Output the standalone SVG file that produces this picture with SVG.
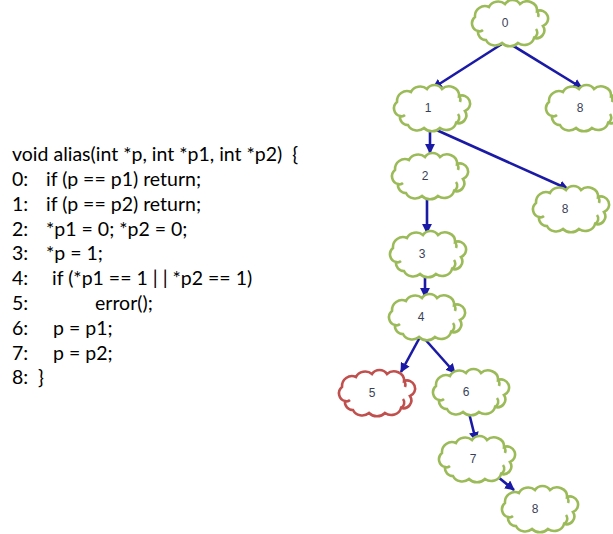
<svg xmlns="http://www.w3.org/2000/svg" xmlns:xlink="http://www.w3.org/1999/xlink" width="613" height="534" viewBox="0 0 613 534">
<style>
.code{font-family:Lato,"Liberation Sans",sans-serif;font-size:19.5px;fill:#000}
.cl{fill:#fff;stroke:#9bbb59;stroke-width:2.6}
.cl.red{stroke:#c0504d}
.curl{fill:none;stroke:#9bbb59;stroke-width:2.6}
.red .curl{stroke:#c0504d}
.lbl{font-family:"Liberation Sans",Arial,sans-serif;font-size:12px;fill:#3a3f58;text-anchor:middle}
.edge{stroke:#1a1aa6;stroke-width:2.6;fill:none;marker-end:url(#ah)}
</style>
<defs>
<marker id="ah" viewBox="0 0 10 10" refX="9" refY="5" markerWidth="3.8" markerHeight="3.8" orient="auto" markerUnits="strokeWidth">
<path d="M0,0 L10,5 L0,10 Z" fill="#1a1aa6"/>
</marker>
<path id="cloud" d="M -30,8 A 8,8 0 0 1 -33,-6 A 10,10 0 0 1 -19,-16 A 10,9 0 0 1 -3,-19 A 9,9 0 0 1 12,-19 A 10,9 0 0 1 29,-12 A 8,8 0 0 1 35,3 A 8,8 0 0 1 26,15 A 10,9 0 0 1 10,20 A 10,8 0 0 1 -6,20 A 10,9 0 0 1 -22,17 A 8,8 0 0 1 -30,8 Z"/>
<path id="curls" d="M 26,15 A 6,6 0 0 0 28,6 M 29,-12 A 6,6 0 0 1 30,-6 M -30,8 A 5,5 0 0 0 -25,7"/>
</defs>
<g id="code">
<text class="code" x="12" y="161" xml:space="preserve">void alias(int *p, int *p1, int *p2)  {</text>
<text class="code" x="12" y="186">0:</text><text class="code" x="46" y="186">if (p == p1) return;</text>
<text class="code" x="12" y="211">1:</text><text class="code" x="46" y="211">if (p == p2) return;</text>
<text class="code" x="12" y="236">2:</text><text class="code" x="46" y="236">*p1 = 0; *p2 = 0;</text>
<text class="code" x="12" y="260">3:</text><text class="code" x="46" y="260">*p = 1;</text>
<text class="code" x="12" y="285">4:</text><text class="code" x="52" y="285">if (*p1 == 1 | | *p2 == 1)</text>
<text class="code" x="12" y="310">5:</text><text class="code" x="95" y="310">error();</text>
<text class="code" x="12" y="335">6:</text><text class="code" x="53" y="335">p = p1;</text>
<text class="code" x="12" y="360">7:</text><text class="code" x="53" y="360">p = p2;</text>
<text class="code" x="12" y="384">8:</text><text class="code" x="38" y="384">}</text>
</g>
<g id="edges">
<line class="edge" x1="505" y1="42" x2="433" y2="88"/>
<line class="edge" x1="507" y1="42" x2="582" y2="88"/>
<line class="edge" x1="430" y1="128" x2="430" y2="153"/>
<line class="edge" x1="432" y1="128" x2="568" y2="189"/>
<line class="edge" x1="427" y1="196" x2="427" y2="233"/>
<line class="edge" x1="425" y1="274" x2="425" y2="297"/>
<line class="edge" x1="420" y1="337" x2="401" y2="372"/>
<line class="edge" x1="423" y1="337" x2="455" y2="373"/>
<line class="edge" x1="469" y1="413" x2="476" y2="441"/>
<line class="edge" x1="487" y1="468" x2="514" y2="490"/>
</g>
<g id="n0" transform="translate(508,23)"><use href="#cloud" class="cl"/><use href="#curls" class="curl"/><text class="lbl" x="-3" y="4">0</text></g>
<g id="n1" transform="translate(430,108)"><use href="#cloud" class="cl"/><use href="#curls" class="curl"/><text class="lbl" x="-2" y="4">1</text></g>
<g id="n8a" transform="translate(582,108)"><use href="#cloud" class="cl"/><use href="#curls" class="curl"/><text class="lbl" x="-2" y="4">8</text></g>
<g id="n2" transform="translate(428,176)"><use href="#cloud" class="cl"/><use href="#curls" class="curl"/><text class="lbl" x="-3" y="4">2</text></g>
<g id="n8b" transform="translate(569,209)"><use href="#cloud" class="cl"/><use href="#curls" class="curl"/><text class="lbl" x="-4" y="4">8</text></g>
<g id="n3" transform="translate(426,254)"><use href="#cloud" class="cl"/><use href="#curls" class="curl"/><text class="lbl" x="-4" y="4">3</text></g>
<g id="n4" transform="translate(425,317)"><use href="#cloud" class="cl"/><use href="#curls" class="curl"/><text class="lbl" x="-4" y="4">4</text></g>
<g id="n5" class="red" transform="translate(375,393)"><use href="#cloud" class="cl red"/><use href="#curls" class="curl"/><text class="lbl" x="-3" y="4">5</text></g>
<g id="n6" transform="translate(469,392)"><use href="#cloud" class="cl"/><use href="#curls" class="curl"/><text class="lbl" x="-3" y="4">6</text></g>
<g id="n7" transform="translate(475,459)"><use href="#cloud" class="cl"/><use href="#curls" class="curl"/><text class="lbl" x="-2" y="4">7</text></g>
<g id="n8c" transform="translate(538,509)"><use href="#cloud" class="cl"/><use href="#curls" class="curl"/><text class="lbl" x="-3" y="4">8</text></g>
</svg>
